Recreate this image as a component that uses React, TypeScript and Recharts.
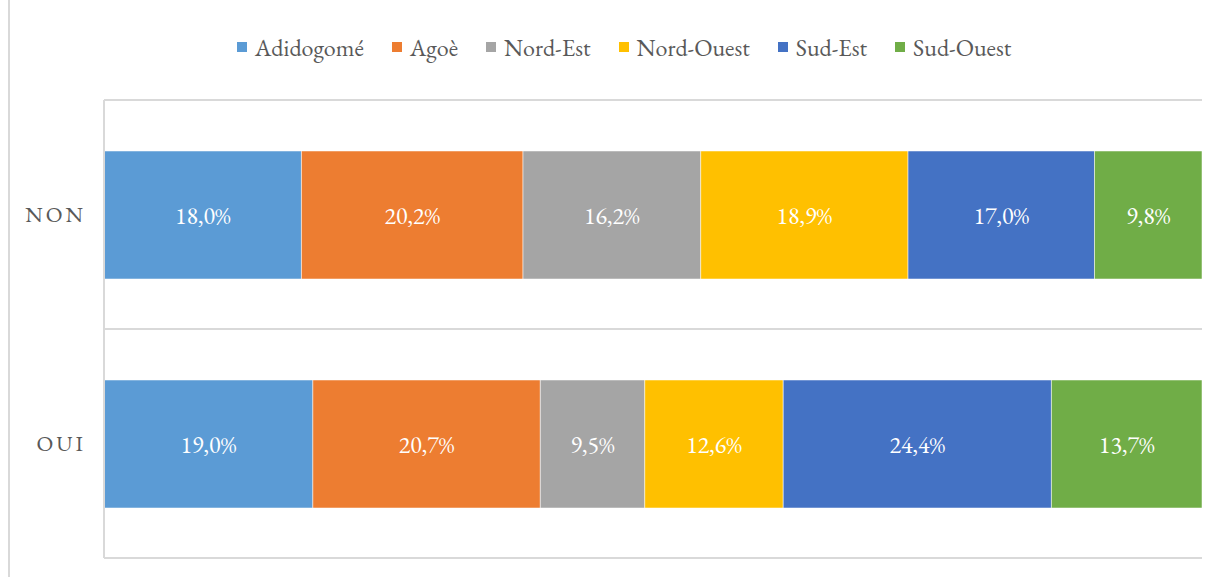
import { BarChart, Bar, XAxis, YAxis, CartesianGrid, LabelList } from 'recharts';

const categories = ['NON', 'OUI'];
const regions = ['Adidogomé', 'Agoè', 'Nord-Est', 'Nord-Ouest', 'Sud-Est', 'Sud-Ouest'];
const nonValues = [18.0, 20.2, 16.2, 18.9, 17.0, 9.8];
const ouiValues = [19.0, 20.7, 9.5, 12.6, 24.4, 13.7];
const colors = ['#5B9BD5', '#ED7D31', '#A5A5A5', '#FFC000', '#4472C4', '#70AD47'];

const seriesByCategory = [nonValues, ouiValues];

const data = categories.map((cat, i) => {
    const row: Record<string, string | number> = { name: cat };
    regions.forEach((r, j) => {
        row[r] = seriesByCategory[i][j];
    });
    return row;
});

const fmt = (v: number) => v.toFixed(1).replace('.', ',') + '%';

const FONT = "'EB Garamond', 'Liberation Serif', serif";
const GRID = '#d9d9d9';
const TEXT = '#595959';

export default function App() {
    return (
        <div style={{ position: 'absolute', left: 0, top: 0, width: 1220, height: 577, fontFamily: FONT, background: '#fff' }}>
            <div style={{ position: 'absolute', left: 8, top: 0, width: 2, height: 577, background: GRID }} />
            <div
                style={{
                    position: 'absolute',
                    top: 35,
                    left: 0,
                    width: 1220,
                    paddingLeft: 28,
                    boxSizing: 'border-box',
                    height: 24,
                    display: 'flex',
                    justifyContent: 'center',
                    alignItems: 'center',
                    fontSize: 24,
                    color: TEXT,
                    fontFamily: FONT,
                }}
            >
                {regions.map((r, i) => (
                    <div key={r} style={{ display: 'flex', alignItems: 'center', marginRight: i < regions.length - 1 ? 28 : 0 }}>
                        <span style={{ display: 'inline-block', width: 10, height: 10, background: colors[i], marginRight: 8 }} />
                        <span>{r}</span>
                    </div>
                ))}
            </div>
            <div style={{ position: 'absolute', left: 0, top: 0 }}>
                <BarChart
                    width={1220}
                    height={577}
                    data={data}
                    layout="vertical"
                    stackOffset="expand"
                    margin={{ top: 100, right: 18, bottom: 19, left: 0 }}
                >
                    <CartesianGrid
                        vertical={false}
                        stroke={GRID}
                        strokeWidth={2}
                        horizontalCoordinatesGenerator={({ offset }: any) => [
                            offset.top,
                            offset.top + offset.height / 2,
                            offset.top + offset.height,
                        ]}
                    />
                    <XAxis type="number" domain={[0, 1]} hide />
                    <YAxis
                        type="category"
                        dataKey="name"
                        width={104}
                        axisLine={{ stroke: GRID, strokeWidth: 2 }}
                        tickLine={false}
                        tickMargin={12}
                        tick={{ fill: TEXT, fontSize: 22, letterSpacing: 3, fontFamily: FONT }}
                    />
                    {regions.map((r, i) => (
                        <Bar
                            key={r}
                            dataKey={r}
                            stackId="a"
                            fill={colors[i]}
                            barSize={128}
                            stroke="#ffffff"
                            strokeOpacity={0.5}
                            strokeWidth={1}
                            isAnimationActive={false}
                        >
                            <LabelList
                                dataKey={r}
                                position="center"
                                fill="#ffffff"
                                fontSize={24}
                                fontFamily={FONT}
                                formatter={(v: any) => fmt(Number(v))}
                            />
                        </Bar>
                    ))}
                </BarChart>
            </div>
        </div>
    );
}
